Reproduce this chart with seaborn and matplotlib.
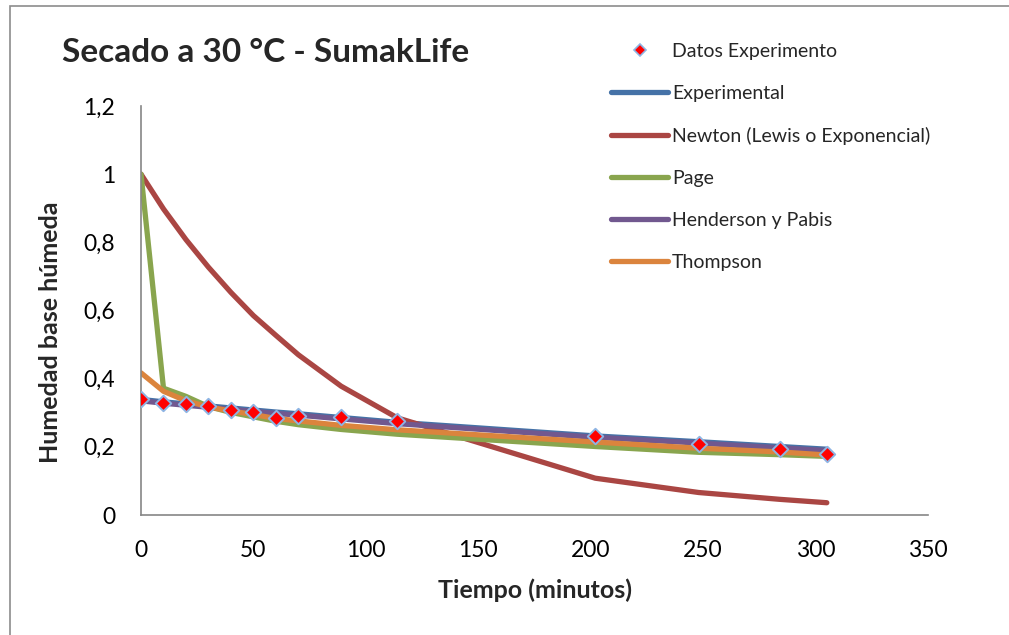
import matplotlib
matplotlib.use("Agg")
import matplotlib.pyplot as plt
import pandas as pd
import seaborn as sns
from matplotlib.lines import Line2D
from matplotlib.patches import Rectangle
from matplotlib.ticker import FuncFormatter

# Drying time (minutes) at which each value was measured / modelled
tiempo = [0, 10, 20, 30, 40, 50, 60, 70, 89, 114, 202, 248, 284, 305]

# Measured moisture (wet basis)
datos_experimento = [0.340, 0.330, 0.325, 0.320, 0.308, 0.303, 0.284, 0.291,
                     0.287, 0.276, 0.233, 0.209, 0.193, 0.178]

# Fitted / model curves
experimental = [0.339, 0.332, 0.326, 0.320, 0.314, 0.308, 0.302, 0.297,
                0.286, 0.272, 0.232, 0.215, 0.201, 0.193]
newton = [1.000, 0.898, 0.808, 0.727, 0.653, 0.585, 0.527, 0.470,
          0.378, 0.285, 0.108, 0.066, 0.046, 0.036]
page = [1.000, 0.372, 0.348, 0.318, 0.301, 0.288, 0.275, 0.265,
        0.251, 0.237, 0.201, 0.184, 0.177, 0.172]
henderson_pabis = [0.335, 0.328, 0.322, 0.316, 0.310, 0.304, 0.298, 0.293,
                   0.282, 0.268, 0.228, 0.211, 0.197, 0.189]
thompson = [0.417, 0.363, 0.335, 0.317, 0.305, 0.295, 0.283, 0.276,
            0.263, 0.250, 0.214, 0.196, 0.185, 0.176]

modelos = ["Experimental", "Newton (Lewis o Exponencial)", "Page",
           "Henderson y Pabis", "Thompson"]
series = [experimental, newton, page, henderson_pabis, thompson]
colores = ["#4572A7", "#AA4643", "#89A54E", "#71588F", "#DB843D"]

x_ticks = [0, 50, 100, 150, 200, 250, 300, 350]
y_ticks = [0, 0.2, 0.4, 0.6, 0.8, 1.0, 1.2]

sns.set_theme(style="white")
plt.rcParams["font.family"] = ["Lato", "DejaVu Sans"]

curvas = pd.DataFrame({
    "Tiempo": tiempo * len(modelos),
    "Humedad": sum(series, []),
    "Modelo": [m for m in modelos for _ in tiempo],
})
puntos = pd.DataFrame({"Tiempo": tiempo, "Humedad": datos_experimento})

fig = plt.figure(figsize=(10.09, 6.35), dpi=100)
ax = fig.add_axes([141 / 1009, 1 - 515 / 635, 787 / 1009, 409 / 635])

sns.lineplot(data=curvas, x="Tiempo", y="Humedad", hue="Modelo",
             hue_order=modelos, palette=colores, sort=False,
             linewidth=3.8, solid_capstyle="round", ax=ax, legend=False,
             zorder=2)
sns.scatterplot(data=puntos, x="Tiempo", y="Humedad", marker="D", s=62,
                color="#FF0000", edgecolor="#8EB4E3", linewidth=1.4,
                ax=ax, zorder=5, legend=False)

ax.set_xlim(0, 350)
ax.set_ylim(0, 1.2)
ax.set_xticks(x_ticks)
ax.set_yticks(y_ticks)
ax.yaxis.set_major_formatter(
    FuncFormatter(lambda v, _: f"{v:g}".replace(".", ",")))
ax.tick_params(axis="both", length=0, labelsize=16.5, colors="#000000")
ax.tick_params(axis="x", pad=18)
ax.tick_params(axis="y", pad=18.5)

for side in ("top", "right"):
    ax.spines[side].set_visible(False)
for side in ("left", "bottom"):
    ax.spines[side].set_color("#868686")
    ax.spines[side].set_linewidth(1.2)

ax.set_xlabel("Tiempo (minutos)", fontsize=18, fontweight="bold")
ax.set_ylabel("Humedad base húmeda", fontsize=18, fontweight="bold")
ax.xaxis.set_label_coords(0.5, -0.156)
ax.yaxis.set_label_coords(-0.100, 0.447)

fig.text(62 / 1009, 1 - 52 / 635, "Secado a 30 °C - SumakLife",
         fontsize=24, fontweight="bold", ha="left", va="center")

# Legend: experimental points first, then the model curves
labels = ["Datos Experimento"] + modelos
leg_handles = [Line2D([], [], linestyle="none", marker="D", markersize=6,
                      markerfacecolor="#FF0000", markeredgecolor="#8EB4E3",
                      markeredgewidth=1.2)]
leg_handles += [Line2D([], [], color=c, linewidth=3.8, solid_capstyle="round")
                for c in colores]
fig.legend(leg_handles, labels, loc="upper left",
           bbox_to_anchor=(611 / 1009, 1 - 43 / 635), frameon=False,
           fontsize=14, handlelength=2.95, handletextpad=0.2,
           labelspacing=1.285, borderpad=0, borderaxespad=0)

# Chart-area border
fig.patches.append(Rectangle((10 / 1009, -0.2), 1.2, 1.2 - 6 / 635,
                             transform=fig.transFigure, fill=False,
                             edgecolor="#8C8C8C", linewidth=1.2))

fig.savefig("out.png", dpi=100, facecolor="white")
